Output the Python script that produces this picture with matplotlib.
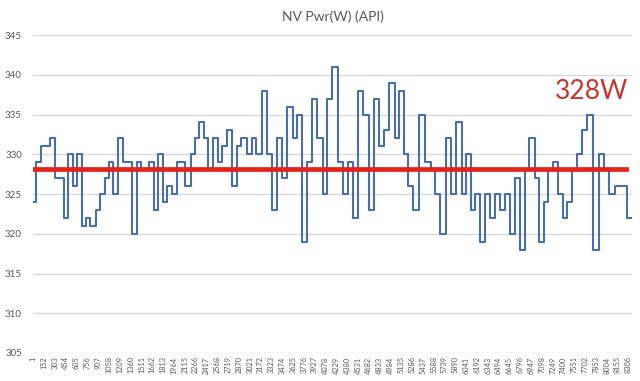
import numpy as np
import matplotlib
matplotlib.use('Agg')
import matplotlib.pyplot as plt

# sample index where the reading changes, and the reading (W) from that sample on
change_idx = [1, 32, 104, 234, 297, 430, 492, 552, 615, 674, 734, 797, 869, 932, 995,
              1058, 1116, 1183, 1246, 1374, 1444, 1500, 1620, 1683, 1746, 1815, 1863,
              1933, 2003, 2125, 2195, 2258, 2317, 2384, 2446, 2509, 2572, 2639, 2707,
              2774, 2844, 2904, 2980, 3049, 3114, 3193, 3259, 3329, 3403, 3468, 3546,
              3619, 3682, 3747, 3825, 3891, 3965, 4040, 4105, 4174, 4251, 4324, 4398,
              4463, 4537, 4607, 4682, 4756, 4830, 4899, 4970, 5047, 5110, 5175, 5235,
              5305, 5385, 5468, 5548, 5608, 5678, 5761, 5831, 5901, 5981, 6041, 6103,
              6166, 6236, 6306, 6376, 6445, 6515, 6585, 6655, 6725, 6794, 6864, 6924,
              7000, 7060, 7129, 7189, 7251, 7321, 7388, 7450, 7524, 7586, 7656, 7730,
              7813, 7900, 7967, 8037, 8120, 8288]
watts = [324, 329, 331, 332, 327, 322, 330, 326, 330, 321, 322, 321, 323, 325, 327,
         329, 325, 332, 329, 320, 329, 328, 329, 323, 330, 324, 326,
         325, 329, 326, 330, 332, 334, 332, 328, 332, 329, 331, 333,
         326, 331, 332, 330, 332, 330, 338, 330, 323, 332, 327, 336,
         332, 335, 319, 329, 337, 332, 325, 337, 341, 329, 325, 329,
         322, 338, 335, 323, 337, 331, 333, 339, 332, 338, 330, 326,
         323, 335, 329, 328, 325, 320, 332, 325, 334, 325, 330, 323,
         325, 319, 325, 322, 325, 323, 325, 320, 327, 318, 328, 332,
         327, 319, 324, 328, 329, 325, 322, 324, 328, 330, 333, 335,
         318, 330, 328, 325, 326, 322]
last_idx = 8352

avg_w = 328.2
avg_end = 8274

xtick_labels = [str(v) for v in range(1, 8400, 151)]

plt.rcParams['font.family'] = ['Lato', 'DejaVu Sans']

fig = plt.figure(figsize=(6.4, 3.81), dpi=100)
ax = fig.add_axes([0.0516, 0.0735, 0.936, 0.8346])

ax.step(change_idx + [last_idx], watts + [watts[-1]], where='post',
        color='#4a6ea8', lw=1.5, zorder=3)
ax.plot([1, avg_end], [avg_w, avg_w], color='#e3221c', lw=3.4, zorder=4)

ax.set_xlim(-3, 8358)
ax.set_ylim(305, 345)
ax.set_yticks(range(305, 346, 5))
ax.set_xticks([int(s) for s in xtick_labels])
ax.set_xticklabels(xtick_labels, rotation=90, fontsize=5.3, color='#595959')
ax.tick_params(axis='y', length=0, pad=8, labelsize=7, labelcolor='#595959')
ax.tick_params(axis='x', length=0, pad=2.5)

ax.grid(axis='y', color='#d9d9d9', lw=1)
for s in ax.spines.values():
    s.set_visible(False)

ax.set_title('NV Pwr(W) (API)', fontsize=10, color='#595959', pad=10)
ax.text(0.932, 0.821, '328W', transform=ax.transAxes, ha='center', va='center',
        fontsize=19, color='#c8352f')

fig.savefig('out.png', dpi=100)
